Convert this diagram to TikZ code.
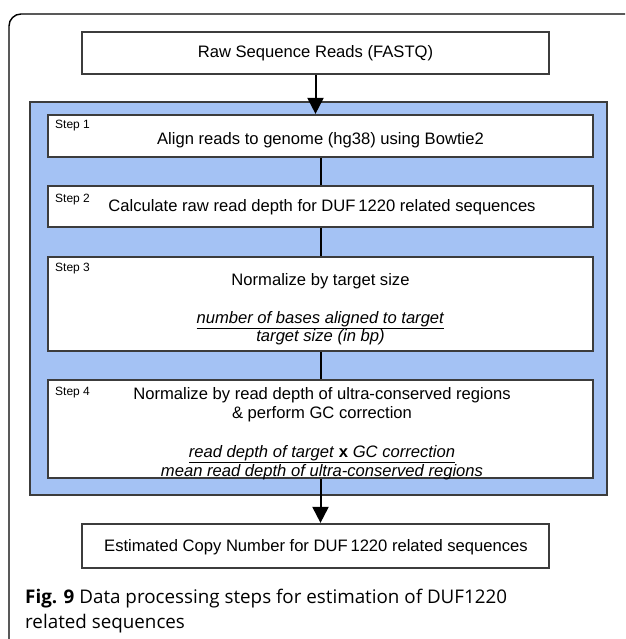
\documentclass[tikz,border=0pt]{standalone}
\usepackage{fontspec}
\usepackage{tikz}
\usepackage{xcolor}
\setmainfont{Liberation Sans}
\newfontfamily\capfont{Open Sans}
\usetikzlibrary{arrows.meta}

\definecolor{panelblue}{RGB}{164,194,244}
\definecolor{edgegray}{RGB}{60,60,60}

\tikzset{
  box/.style={draw=edgegray,line width=2.2pt,fill=white,inner sep=0pt},
  maintext/.style={font=\fontsize{16.6}{18.5}\selectfont,align=center,inner sep=0pt},
  steptag/.style={font=\fontsize{12}{13}\selectfont,inner sep=0pt,anchor=north west},
  link/.style={line width=2pt,black},
  flow/.style={line width=2pt,black,-{Triangle[length=16pt,width=16pt]}},
  captext/.style={font=\capfont\fontsize{18.8}{22}\selectfont,anchor=base west,inner sep=0pt}
}

\begin{document}
\begin{tikzpicture}[x=1pt,y=-1pt]
\useasboundingbox (0,0) rectangle (625,639);
% outer frame
\draw[line width=1.4pt,rounded corners=12pt] (625,14) -- (9,14) -- (9,639);
% input
\node[box,minimum width=467pt,minimum height=42pt] (raw) at (315.5,53) {};
\node[maintext] (rawtext) at (315.5,53) {Raw Sequence Reads (FASTQ)};
% blue panel
\node[draw=edgegray,line width=2.6pt,fill=panelblue,minimum width=577pt,minimum height=393pt] (panel) at (318.5,298.5) {};
% step 1
\node[box,minimum width=545pt,minimum height=42pt] (s1) at (320.5,136) {};
\node[steptag] (t1) at (55,120) {Step 1};
\node[maintext] (m1) at (320.5,140) {Align reads to genome (hg38) using Bowtie2};
% step 2
\node[box,minimum width=545pt,minimum height=41pt] (s2) at (320.5,206.5) {};
\node[steptag] (t2) at (55,194) {Step 2};
\node[maintext] (m2) at (322,207.5) {Calculate raw read depth for DUF\,1220 related sequences};
% step 3
\node[box,minimum width=545pt,minimum height=94pt] (s3) at (320.5,304) {};
\node[steptag] (t3) at (55,263) {Step 3};
\node[maintext] (m3) at (320.5,309) {Normalize by target size\\[19.5pt]
  \underline{\textit{number of bases aligned to target}}\\
  \textit{target size (in bp)}};
% step 4
\node[box,minimum width=545pt,minimum height=98pt] (s4) at (320.5,429) {};
\node[steptag] (t4) at (55,387) {Step 4};
\node[maintext] (m4) at (322,433.5) {Normalize by read depth of ultra-conserved regions\\
  \& perform GC correction\\[21pt]
  \underline{\textit{read depth of target} \textbf{x} \textit{GC correction}}\\
  \textit{mean read depth of ultra-conserved regions}};
% output
\node[box,minimum width=467pt,minimum height=44pt] (cn) at (315.5,546) {};
\node[maintext] (cntext) at (316,547) {Estimated Copy Number for DUF\,1220 related sequences};
% connectors
\draw[flow] (raw.south) -- (raw.south |- s1.north);
\draw[link] (s1.south) -- (s2.north);
\draw[link] (s2.south) -- (s3.north);
\draw[link] (s3.south) -- (s4.north);
\draw[flow] (s4.south) -- (s4.south |- cn.north);
% caption
\node[captext] (cap1) at (25,603) {\textbf{Fig. 9} Data processing steps for estimation of DUF1220};
\node[captext] (cap2) at (25,628) {related sequences};
\end{tikzpicture}
\end{document}
